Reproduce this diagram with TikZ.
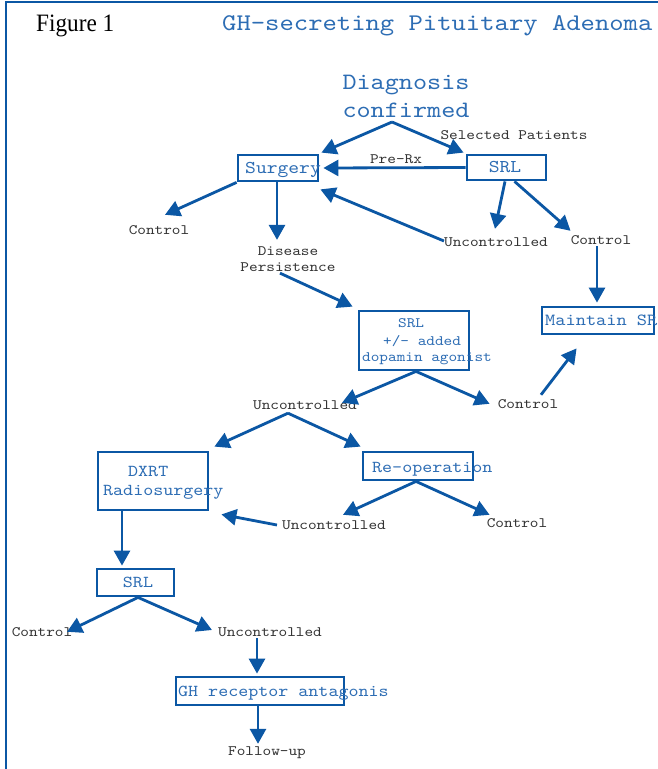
\documentclass[tikz,border=0pt]{standalone}
\usepackage{fontspec}
\usepackage{graphicx}
\setmainfont{Liberation Serif}
\newfontfamily\monof{lmmono10-regular.otf}[FakeStretch=1.143]
\usetikzlibrary{arrows.meta}
\definecolor{lineblue}{HTML}{0B57A4}
\definecolor{textblue}{HTML}{2D6DB4}
\definecolor{labgray}{HTML}{333333}
\begin{document}
\begin{tikzpicture}[x=1pt,y=-1pt,
  conn/.style={draw=lineblue, line width=2.8pt, -{Triangle[length=15pt,width=16pt]}},
  boxn/.style={draw=lineblue, line width=2.8pt, rectangle, inner sep=0pt},
  labbase/.style={inner sep=0pt, text=labgray, font=\monof\fontsize{14.4}{16}\selectfont},
  lab/.style={labbase, text height=9pt, text depth=0pt},
  btext/.style={inner sep=0pt, text=textblue, anchor=west, text height=9pt, text depth=0pt,
    font=\monof\fontsize{16.7}{19}\selectfont},
]
\useasboundingbox (0,0) rectangle (657,769);
\fill[white] (0,0) rectangle (657,769);
% frame
\draw[lineblue, line width=2.5pt] (6,770) -- (6,2) -- (658,2);

% titles
\node[inner sep=0pt, anchor=base west, font=\fontsize{25}{28}\selectfont] (fig) at (36,31) {\scalebox{0.93}[1]{Figure 1}};
\node[inner sep=0pt, anchor=base west, text=textblue, font=\monof\fontsize{23.9}{26}\selectfont] (title) at (222,30) {GH-secreting Pituitary Adenoma};
\node[inner sep=0pt, align=center, text=textblue, font=\monof\fontsize{23.5}{28}\selectfont] (diag) at (406,96) {Diagnosis\\confirmed};

% boxes
\node[boxn, minimum width=80pt, minimum height=26pt] (surg) at (278,168) {};
\node[btext, font=\monof\fontsize{18}{20}\selectfont] (surgt) at (245,169) {Surgery};
\node[boxn, minimum width=79pt, minimum height=25pt] (srl1) at (506.5,167.5) {};
\node[btext, anchor=center, font=\monof\fontsize{18}{20}\selectfont] (srl1t) at (505,168) {SRL};
\node[boxn, minimum width=112pt, minimum height=27pt] (maint) at (598,320.5) {};
\node[btext, font=\monof\fontsize{17}{19}\selectfont] (maintt) at (545,321) {Maintain SR};
\node[boxn, minimum width=110pt, minimum height=59pt] (srl2) at (414,340.5) {};
\node[btext, font=\monof\fontsize{14.4}{16}\selectfont] (srl2a) at (398,323) {SRL};
\node[btext, font=\monof\fontsize{14.4}{16}\selectfont] (srl2b) at (383,341) {+/- added};
\node[btext, font=\monof\fontsize{14.4}{16}\selectfont] (srl2c) at (362,357) {dopamin agonist};
\node[boxn, minimum width=110pt, minimum height=58pt] (dxrt) at (153,481) {};
\node[btext] (dxrta) at (128,472) {DXRT};
\node[btext] (dxrtb) at (103,491) {Radiosurgery};
\node[boxn, minimum width=110pt, minimum height=28pt] (reop) at (418,466) {};
\node[btext] (reopt) at (372,468) {Re-operation};
\node[boxn, minimum width=77pt, minimum height=27pt] (srl3) at (135.5,582.5) {};
\node[btext, anchor=center] (srl3t) at (138,583) {SRL};
\node[boxn, minimum width=168pt, minimum height=28pt] (gh) at (260,691) {};
\node[btext] (ght) at (178,692) {GH receptor antagonis};

% labels
\node[lab] (sel) at (514,135) {Selected Patients};
\node[lab] (prerx) at (396,159) {Pre-Rx};
\node[lab] (ctlA) at (159,230) {Control};
\node[labbase, align=center] (dis) at (288,259) {Disease\\Persistence};
\node[lab] (uncA) at (496,242) {Uncontrolled};
\node[lab] (ctlB) at (601,240) {Control};
\node[lab] (uncB) at (305,405) {Uncontrolled};
\node[lab] (ctlC) at (528,404) {Control};
\node[lab] (uncC) at (334,525) {Uncontrolled};
\node[lab] (ctlD) at (517,523) {Control};
\node[lab] (ctlE) at (42,632) {Control};
\node[lab] (uncD) at (270,632) {Uncontrolled};
\node[lab] (fol) at (267,751) {Follow-up};

% connectors
\coordinate (apx1) at (392,122);
\draw[conn] (apx1) -- ([xshift=2pt,yshift=1pt]surg.north east);
\draw[conn] (apx1) -- ([xshift=-2pt,yshift=1pt]srl1.north west);
\draw[conn] (srl1.west) -- ([xshift=4pt]surg.east);
\draw[conn] ([yshift=1pt]uncA.west) -- ([xshift=1pt,yshift=-7pt]surg.south east);
\draw[conn] (surg.south west) -- ([xshift=6pt,yshift=10.5pt]ctlA.north);
\draw[conn] ([xshift=-1pt]surg.south) -- ([xshift=-11pt,yshift=6.5pt]dis.north);
\draw[conn] ([xshift=-1.5pt]srl1.south) -- ([xshift=-1pt,yshift=8.5pt]uncA.north);
\draw[conn] ([xshift=8pt]srl1.south) -- ([yshift=4.5pt]ctlB.north west);
\draw[conn] ([xshift=-4pt,yshift=-1.5pt]ctlB.south) -- ([xshift=-1pt,yshift=3pt]maint.north);
\draw[conn] ([xshift=-8pt,yshift=-1.5pt]dis.south) -- ([xshift=-5pt,yshift=3pt]srl2.north west);
\draw[conn] ([xshift=2pt]srl2.south) -- ([xshift=37pt,yshift=-2.5pt]uncB.north);
\draw[conn] ([xshift=2pt]srl2.south) -- ([xshift=-8pt,yshift=-4.5pt]ctlC.north west);
\draw[conn] ([xshift=13pt,yshift=4.5pt]ctlC.north) -- ([xshift=36pt,yshift=-13pt]maint.south west);
\coordinate (apx2) at ([xshift=-17pt,yshift=-3.5pt]uncB.south);
\draw[conn] (apx2) -- ([xshift=5pt,yshift=4pt]dxrt.north east);
\draw[conn] (apx2) -- ([xshift=-1pt,yshift=4pt]reop.north west);
\draw[conn] ([xshift=-2pt]reop.south) -- ([xshift=9pt,yshift=5.5pt]uncC.north);
\draw[conn] ([xshift=-2pt]reop.south) -- ([xshift=3pt,yshift=3.5pt]ctlD.north west);
\draw[conn] ([xshift=-5pt]uncC.west) -- ([xshift=12pt,yshift=-3pt]dxrt.south east);
\draw[conn] ([xshift=-31pt]dxrt.south) -- ([xshift=-13.5pt,yshift=2pt]srl3.north);
\draw[conn] ([xshift=2.5pt]srl3.south) -- ([xshift=25pt,yshift=-4.5pt]ctlE.north);
\draw[conn] ([xshift=2.5pt]srl3.south) -- ([xshift=-6pt,yshift=2pt]uncD.west);
\draw[conn] ([xshift=-13pt,yshift=-1.5pt]uncD.south) -- ([xshift=-3pt,yshift=2pt]gh.north);
\draw[conn] ([xshift=-2pt]gh.south) -- ([xshift=-9pt,yshift=2.5pt]fol.north);
\end{tikzpicture}
\end{document}
